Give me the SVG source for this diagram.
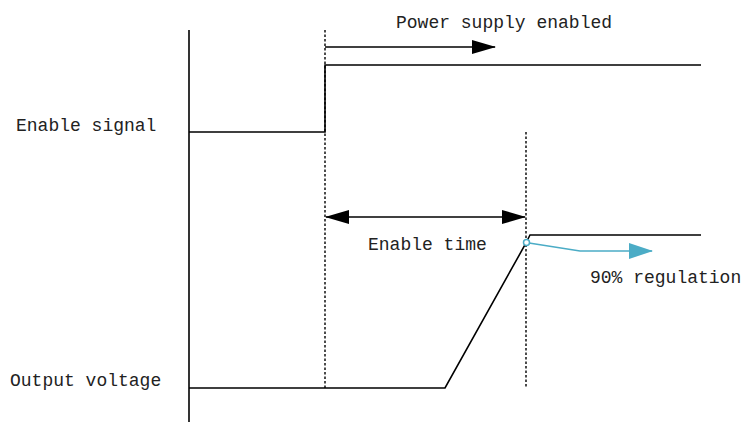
<svg xmlns="http://www.w3.org/2000/svg" width="745" height="423" viewBox="0 0 745 423">
<style>
.t{font-family:"Liberation Mono","DejaVu Sans Mono",monospace;font-size:18px;fill:#222}
.l{fill:none;stroke:#000;stroke-width:1.6}
.d{fill:none;stroke:#000;stroke-width:1.4;stroke-dasharray:2.5,2}
.b{fill:none;stroke:#4BACC6;stroke-width:1.6}
</style>
<defs>
<marker id="ah" markerWidth="24" markerHeight="14" refX="23" refY="7" orient="auto-start-reverse" markerUnits="userSpaceOnUse"><path d="M0,0 L24,7 L0,14 Z" fill="#000"/></marker>
<marker id="bh" markerWidth="24" markerHeight="16" refX="23" refY="8" orient="auto" markerUnits="userSpaceOnUse"><path d="M0,0 L24,8 L0,16 Z" fill="#4BACC6"/></marker>
</defs>
<rect width="745" height="423" fill="#fff"/>
<g id="axis"><line class="l" x1="189" y1="30" x2="189" y2="422"/></g>
<g id="enable-signal">
<polyline class="l" points="189,132 325,132 325,65 701,65"/>
<text class="t" x="16" y="131">Enable signal</text>
</g>
<g id="output-voltage">
<polyline class="l" points="189,388 445,388 526,243 530,235 701,235"/>
<text class="t" x="10" y="386">Output voltage</text>
</g>
<g id="markers">
<line class="d" x1="325" y1="30" x2="325" y2="388"/>
<line class="d" x1="526" y1="132" x2="526" y2="388"/>
</g>
<g id="connectors">
<line class="l" x1="325" y1="47" x2="495" y2="47" marker-end="url(#ah)"/>
<line class="l" x1="326" y1="217" x2="525" y2="217" marker-start="url(#ah)" marker-end="url(#ah)"/>
<polyline class="b" points="529,243 580,251 652,251" marker-end="url(#bh)"/>
<circle cx="526.5" cy="242.5" r="3" fill="#fff" stroke="#4BACC6" stroke-width="1.5"/>
</g>
<g id="labels">
<text class="t" x="396" y="28">Power supply enabled</text>
<text class="t" x="368" y="250">Enable time</text>
<text class="t" x="590" y="283">90% regulation</text>
</g>
</svg>
